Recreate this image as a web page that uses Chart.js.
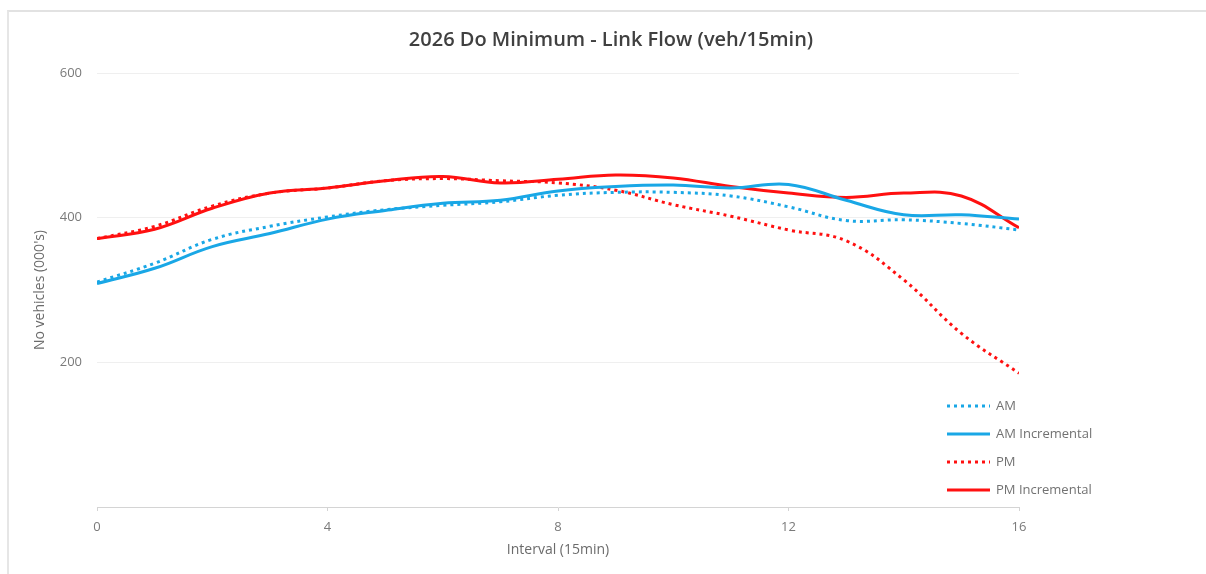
<!DOCTYPE html>
<html>
<head>
<meta charset="utf-8">
<script src="https://cdn.jsdelivr.net/npm/chart.js@4"></script>
<style>
  html, body { margin: 0; padding: 0; background: #ffffff; }
  #wrap { position: relative; width: 1206px; height: 574px; overflow: hidden; }
  #frame { position: absolute; left: 7px; top: 10px; width: 1200px; height: 570px;
           border-top: 2px solid #e2e2e2; border-left: 2px solid #e6e6e6; }
  canvas { position: absolute; left: 0; top: 0; }
</style>
</head>
<body>
<div id="wrap">
  <div id="frame"></div>
  <canvas id="c" width="1206" height="574"></canvas>
</div>
<script>
// ---- data ----
const intervals = [0, 1, 2, 3, 4, 5, 6, 7, 8, 9, 10, 11, 12, 13, 14, 15, 16];
const amValues = [311, 337, 370, 388, 401, 411, 417, 422, 431, 435, 435, 430, 415, 396, 397, 392, 383];
const amIncValues = [309, 330, 360, 378, 398, 410, 420, 424, 437, 443, 445, 441, 446, 424, 404, 404, 398];
const pmValues = [371, 388, 416, 434, 441, 451, 454, 451, 448, 438, 418, 402, 383, 368, 314, 240, 185];
const pmIncValues = [371, 384, 413, 434, 441, 451, 457, 448, 453, 459, 455, 443, 434, 428, 434, 430, 386];
const seriesNames = ['AM', 'AM Incremental', 'PM', 'PM Incremental'];
const xTicks = [0, 4, 8, 12, 16];
const yTicks = [200, 400, 600];

const BLUE = '#19a7e6';
const RED = '#ff1010';
const FONT = '"Open Sans", sans-serif';

function pts(vals) { return intervals.map((x, i) => ({ x: x, y: vals[i] })); }

const datasets = [
  { label: seriesNames[0], data: pts(amValues), borderColor: BLUE, borderWidth: 3, borderDash: [3, 4], borderCapStyle: 'butt' },
  { label: seriesNames[1], data: pts(amIncValues), borderColor: BLUE, borderWidth: 3 },
  { label: seriesNames[2], data: pts(pmValues), borderColor: RED, borderWidth: 3, borderDash: [3, 4], borderCapStyle: 'butt' },
  { label: seriesNames[3], data: pts(pmIncValues), borderColor: RED, borderWidth: 3 }
].map(d => Object.assign({ pointRadius: 0, pointHoverRadius: 0, tension: 0.4, fill: false }, d));

// legend drawn inside the plot area (as in the reference)
const insideLegend = {
  id: 'insideLegend',
  afterDraw(chart) {
    const ctx = chart.ctx;
    const x0 = 947, x1 = 990, tx = 996;
    const y0 = 406, dy = 28;
    ctx.save();
    ctx.font = '13px ' + FONT;
    ctx.textBaseline = 'middle';
    ctx.textAlign = 'left';
    chart.data.datasets.forEach((ds, i) => {
      const y = y0 + i * dy;
      ctx.beginPath();
      ctx.strokeStyle = ds.borderColor;
      ctx.lineWidth = 3;
      ctx.lineCap = 'butt';
      ctx.setLineDash(ds.borderDash || []);
      ctx.moveTo(x0, y);
      ctx.lineTo(x1, y);
      ctx.stroke();
      ctx.setLineDash([]);
      ctx.fillStyle = '#727272';
      ctx.fillText(ds.label, tx, y);
    });
    ctx.restore();
  }
};

new Chart(document.getElementById('c'), {
  type: 'line',
  data: { datasets: datasets },
  plugins: [insideLegend],
  options: {
    responsive: false,
    animation: false,
    layout: { padding: { left: 16, right: 0, top: 0, bottom: 0 } },
    plugins: {
      legend: { display: false },
      tooltip: { enabled: false },
      title: {
        display: true,
        text: '2026 Do Minimum - Link Flow (veh/15min)',
        color: '#404040',
        font: { family: FONT, size: 20, weight: '600', lineHeight: 1.2 },
        padding: { top: 28, bottom: 21 }
      }
    },
    scales: {
      x: {
        type: 'linear',
        min: 0, max: 16,
        afterBuildTicks: (s) => { s.ticks = xTicks.map(v => ({ value: v })); },
        afterFit: (s) => { s.height = 67; },
        grid: { drawOnChartArea: false, drawTicks: true, tickLength: 4, color: '#d4d4d4' },
        border: { display: true, color: '#d4d4d4', width: 1 },
        ticks: { color: '#7a7a7a', padding: 8, font: { family: FONT, size: 13 } },
        title: {
          display: true, text: 'Interval (15min)', color: '#6b6b6b',
          font: { family: FONT, size: 14 },
          padding: { top: 0, bottom: 15.6 }
        }
      },
      y: {
        min: 0, max: 600,
        afterBuildTicks: (s) => { s.ticks = [0].concat(yTicks).map(v => ({ value: v })); },
        afterFit: (s) => { s.width = 81; },
        grid: { drawTicks: false, color: (c) => c.tick && c.tick.value === 0 ? 'rgba(0,0,0,0)' : '#efefef' },
        border: { display: false },
        ticks: {
          color: '#7a7a7a', padding: 15,
          font: { family: FONT, size: 13 },
          callback: (v) => v === 0 ? '' : String(v)
        },
        title: {
          display: true, text: "No vehicles (000's)", color: '#6b6b6b',
          font: { family: FONT, size: 14 },
          padding: { top: 15.6, bottom: 0 }
        }
      },
      yRightSpace: {
        position: 'right',
        min: 0, max: 600,
        afterFit: (s) => { s.width = 187; },
        grid: { display: false },
        border: { display: false },
        ticks: { display: false }
      }
    }
  }
});
</script>
</body>
</html>
